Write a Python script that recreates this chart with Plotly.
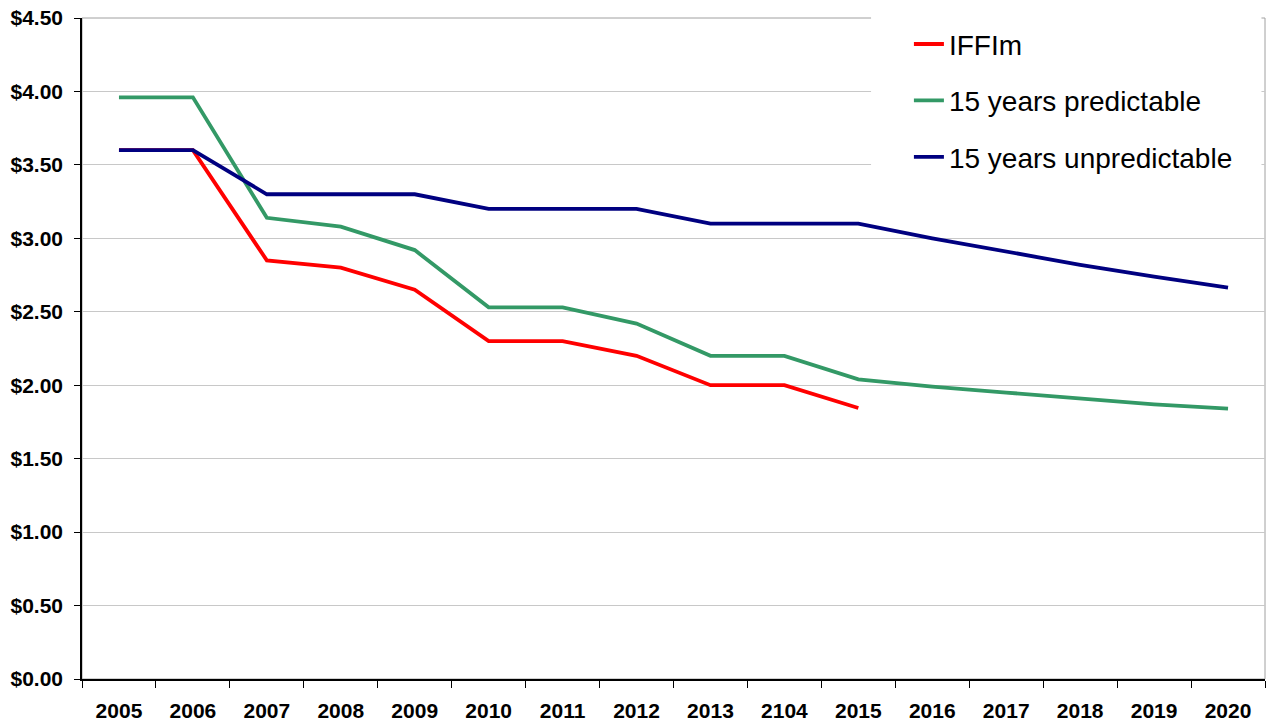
import plotly.graph_objects as go

years = ["2005", "2006", "2007", "2008", "2009", "2010", "2011", "2012",
         "2013", "2104", "2015", "2016", "2017", "2018", "2019", "2020"]
iffim = [3.60, 3.60, 2.85, 2.80, 2.65, 2.30, 2.30, 2.20, 2.00, 2.00, 1.845,
         None, None, None, None, None]
predictable = [3.96, 3.96, 3.14, 3.08, 2.92, 2.53, 2.53, 2.42, 2.20, 2.20, 2.04,
               1.99, 1.95, 1.91, 1.87, 1.84]
unpredictable = [3.60, 3.60, 3.30, 3.30, 3.30, 3.20, 3.20, 3.20, 3.10, 3.10, 3.10,
                 3.00, 2.91, 2.82, 2.74, 2.665]

series = [("IFFIm", iffim, "#ff0000"),
          ("15 years predictable", predictable, "#339966"),
          ("15 years unpredictable", unpredictable, "#000080")]

fig = go.Figure()
for i, (name, vals, col) in enumerate(series):
    fig.add_trace(go.Scatter(x=years, y=vals, name=name, mode="lines",
                             line=dict(color=col, width=3.8),
                             legendgroup=str(i), connectgaps=False))

fig.update_layout(
    width=1267, height=722,
    margin=dict(l=82, r=2, t=18, b=43, autoexpand=False),
    paper_bgcolor="white", plot_bgcolor="white",
    font=dict(family="Liberation Sans, Arial", color="black"),
    legend=dict(x=0.699, y=0.998, xanchor="left", yanchor="top",
                bgcolor="rgba(0,0,0,0)", borderwidth=0,
                font=dict(size=28, family="Liberation Sans, Arial"),
                traceorder="grouped", tracegroupgap=17),
    shapes=[
        # plot area border
        dict(type="rect", xref="paper", yref="paper", x0=0, x1=1, y0=0, y1=1,
             line=dict(color="#a0a0a0", width=1), layer="below"),
        # legend box (white, hides gridlines behind it)
        dict(type="rect", xref="paper", yref="paper", x0=0.667, x1=0.997,
             y0=0.715, y1=1.01, fillcolor="white", line=dict(width=0),
             layer="above"),
    ],
)
fig.update_xaxes(type="category", range=[-0.5, 15.5], showgrid=False,
                 automargin=False, ticklabeloverflow="allow",
                 ticklabelstandoff=12,
                 showline=True, linecolor="black", linewidth=1.5,
                 ticks="outside", tickson="boundaries", ticklen=7,
                 tickcolor="black", tickwidth=1.2,
                 tickfont=dict(size=21, weight="bold"))
fig.update_yaxes(range=[0, 4.5], dtick=0.5, tickformat="$.2f",
                 automargin=False, ticklabeloverflow="allow",
                 ticklabelstandoff=7,
                 showgrid=True, gridcolor="#c8c8c8", gridwidth=1,
                 showline=True, linecolor="black", linewidth=1.5,
                 ticks="outside", ticklen=6, tickcolor="black",
                 tickfont=dict(size=21, weight="bold"), zeroline=False)

# drop the browser's default 8px body margin so the figure sits at 0,0
fig.write_html("out.html", config={"displayModeBar": False},
               post_script="document.body.style.margin='0';")
